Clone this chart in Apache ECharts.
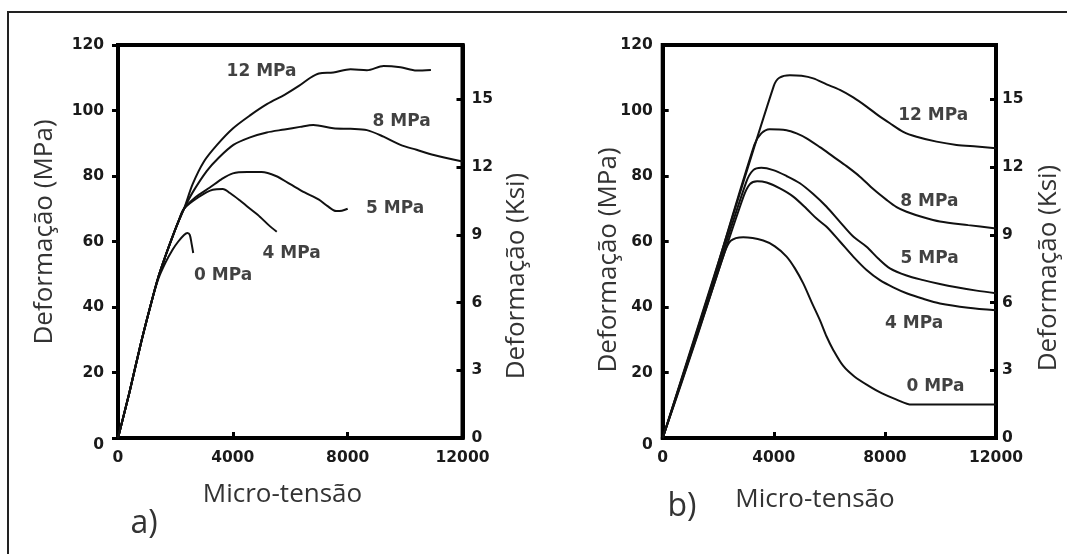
<!DOCTYPE html>
<html>
<head>
<meta charset="utf-8">
<title>Deformação x Micro-tensão</title>
<script src="https://cdn.jsdelivr.net/npm/echarts@6.0.0/dist/echarts.min.js"></script>
<style>
    html, body { margin: 0; padding: 0; background: #fff; }
    #main { width: 1067px; height: 554px; }
</style>
</head>
<body>
<div id="main"></div>
<script>
// eixos
var xMax = 12000;
var xStep = 4000;
var mpaMax = 120;
var mpaStep = 20;
var ksiStep = 3;
var mpaPorKsi = 6.895;
var curveNames = ['0 MPa', '4 MPa', '5 MPa', '8 MPa', '12 MPa'];

// a) curvas [micro-tensão, MPa]
var a0 = [[0, 0], [400, 14], [800, 29], [1150, 41], [1400, 48.5], [1650, 53.5], [1900, 57.5], [2100, 60], [2300, 62], [2420, 62.6], [2500, 62], [2560, 59.5], [2620, 56.5]];
var a4 = [[0, 0], [400, 14], [800, 29], [1150, 41], [1400, 49], [1650, 55.5], [1900, 61.5], [2100, 66], [2300, 70], [2800, 73.5], [3300, 75.8], [3650, 76], [3900, 74.8], [4250, 72.5], [4600, 70], [4950, 67.5], [5250, 65], [5530, 63]];
var a5 = [[0, 0], [400, 14], [800, 29], [1150, 41], [1400, 49], [1650, 55.5], [1900, 61.5], [2100, 66], [2300, 70], [2700, 73.5], [3200, 76.5], [3600, 79], [4000, 80.8], [4500, 81.2], [5000, 81.2], [5500, 80], [6000, 77.5], [6500, 75], [7000, 72.8], [7300, 70.8], [7600, 69.3], [7800, 69.4], [8000, 70]];
var a8 = [[0, 0], [400, 14], [800, 29], [1150, 41], [1400, 49], [1650, 55.5], [1900, 61.5], [2100, 66], [2300, 70], [2600, 75], [3090, 81.5], [3500, 85.5], [4020, 89.5], [4600, 91.8], [5180, 93.3], [5800, 94.2], [6340, 95], [6800, 95.6], [7500, 94.6], [8100, 94.4], [8670, 94], [9250, 92], [9840, 89.5], [10400, 88], [11000, 86.4], [12000, 84.4]];
var a12 = [[0, 0], [400, 14], [800, 29], [1150, 41], [1400, 49], [1650, 55.5], [1900, 61.5], [2100, 66], [2300, 70], [2600, 77.5], [3000, 84.5], [3450, 89.5], [4000, 94.5], [4600, 98.5], [5200, 102], [5800, 104.8], [6300, 107.5], [6700, 110], [7000, 111.3], [7500, 111.6], [8100, 112.6], [8670, 112.3], [9250, 113.6], [9840, 113.2], [10400, 112.2], [10900, 112.4]];

// b) curvas [micro-tensão, MPa]
var b0 = [[0, 0], [1200, 30], [2200, 56], [2450, 60.2], [2900, 61.3], [3620, 60.3], [4040, 58.5], [4460, 55.4], [4760, 51.8], [5060, 47.2], [5360, 41.5], [5660, 36], [5900, 31], [6140, 26.9], [6500, 22], [6900, 18.8], [7400, 16], [7900, 13.6], [8400, 11.8], [8960, 10.2], [12000, 10.2]];
var b4 = [[0, 0], [1500, 38], [2900, 73.5], [3140, 77.5], [3400, 78.4], [3740, 78], [4220, 76.2], [4700, 73.7], [5180, 70], [5540, 67], [5900, 64.5], [6380, 60], [6860, 55.4], [7340, 51.3], [7820, 48.2], [8300, 46], [8780, 44.2], [9380, 42.5], [9980, 41.1], [11000, 39.8], [12000, 39]];
var b5 = [[0, 0], [1500, 39], [3000, 78], [3260, 81.8], [3550, 82.5], [3980, 81.8], [4460, 80], [4940, 77.8], [5420, 74.5], [5900, 70.6], [6380, 66], [6860, 61.5], [7340, 58.4], [7760, 54.8], [8180, 51.8], [8780, 49.6], [9380, 48.2], [9980, 47], [10580, 46], [11300, 45], [12000, 44.2]];
var b8 = [[0, 0], [1700, 45], [3300, 89.5], [3550, 93], [3850, 94.3], [4460, 94], [4820, 93], [5180, 91.5], [5660, 88.8], [6140, 85.9], [6620, 83], [7100, 79.8], [7580, 76], [8060, 72.7], [8420, 70.5], [8780, 69.1], [9380, 67.4], [9980, 66.1], [11000, 65], [12000, 64]];
var b12 = [[0, 0], [2000, 53.5], [4000, 107.5], [4200, 110], [4580, 110.8], [5000, 110.6], [5420, 109.8], [5900, 108], [6380, 106.3], [6860, 104], [7340, 101.2], [7760, 98.5], [8180, 96.1], [8660, 93.5], [9140, 92], [9860, 90.5], [10580, 89.5], [11300, 89], [12000, 88.5]];

// onde fica o nome de cada curva (coordenadas dos dados)
var labelAtA = [[3660, 49.5], [6050, 56.4], [9650, 70], [9880, 96.6], [5000, 112]];
var labelAtB = [[9820, 15.7], [9050, 35], [9610, 54.9], [9600, 72.2], [9740, 98.6]];

var curvesA = [a0, a4, a5, a8, a12];
var curvesB = [b0, b4, b5, b8, b12];

var tickFont = { fontFamily: 'DejaVu Sans', fontWeight: 'bold', fontSize: 15.5, color: '#1a1a1a' };
var titleFont = '26px "Open Sans"';

function xAxisFor(g) {
    return {
        type: 'value', gridIndex: g, min: 0, max: xMax, interval: xStep,
        axisLine: { show: true, onZero: false, lineStyle: { color: '#000', width: 4 } },
        axisTick: { show: true, inside: true, length: 6, lineStyle: { color: '#000', width: 3 } },
        axisLabel: Object.assign({ margin: 12, formatter: function (v) { return String(v); } }, tickFont),
        splitLine: { show: false }
    };
}

function mpaAxisFor(g, tickOut, margin) {
    return {
        type: 'value', gridIndex: g, position: 'left', min: 0, max: mpaMax, interval: mpaStep,
        axisLine: { show: true, onZero: false, lineStyle: { color: '#000', width: 4 } },
        axisTick: { show: true, inside: !tickOut, length: 6, lineStyle: { color: '#000', width: 3 } },
        axisLabel: Object.assign({
            margin: margin,
            formatter: function (v) { return v === 0 ? '{z|0}' : String(v); },
            rich: { z: Object.assign({ padding: [14, 0, 0, 0] }, tickFont) }
        }, tickFont),
        splitLine: { show: false }
    };
}

function ksiAxisFor(g, margin) {
    return {
        type: 'value', gridIndex: g, position: 'right', min: 0, max: mpaMax / mpaPorKsi, interval: ksiStep,
        axisLine: { show: true, onZero: false, lineStyle: { color: '#000', width: 4 } },
        axisTick: { show: true, inside: true, length: 6, lineStyle: { color: '#000', width: 3 } },
        axisLabel: Object.assign({ margin: margin, showMaxLabel: false }, tickFont),
        splitLine: { show: false }
    };
}

var series = [];
function addCurves(curves, g) {
    for (var i = 0; i < curves.length; i++) {
        series.push({
            type: 'line', name: curveNames[i], xAxisIndex: g, yAxisIndex: g * 2,
            data: curves[i], showSymbol: false, smooth: 0.3, silent: true,
            lineStyle: { color: '#111', width: 2 }
        });
    }
}
function addLabels(points, g) {
    series.push({
        type: 'scatter', xAxisIndex: g, yAxisIndex: g * 2, symbolSize: 1, silent: true,
        itemStyle: { color: 'rgba(0,0,0,0)' },
        data: points.map(function (p, i) { return { name: curveNames[i], value: p }; }),
        label: {
            show: true, position: 'inside', formatter: '{b}',
            fontFamily: 'DejaVu Sans', fontWeight: 'bold', fontSize: 17, color: '#111'
        }
    });
}
addCurves(curvesA, 0);
addCurves(curvesB, 1);
addLabels(labelAtA, 0);
addLabels(labelAtB, 1);

function title(text, x, y, rot, font) {
    return {
        type: 'text', x: x, y: y, rotation: rot || 0, silent: true,
        style: { text: text, font: font || titleFont, fill: '#333', align: 'center', verticalAlign: 'middle' }
    };
}

var myChart = echarts.init(document.getElementById('main'), null, { renderer: 'canvas' });
myChart.setOption({
    animation: false,
    backgroundColor: '#fff',
    grid: [
        { left: 118, top: 45, width: 344.5, height: 393, show: true, borderColor: '#000', borderWidth: 4 },
        { left: 662.7, top: 45, width: 333.3, height: 393, show: true, borderColor: '#000', borderWidth: 4 }
    ],
    xAxis: [xAxisFor(0), xAxisFor(1)],
    yAxis: [mpaAxisFor(0, true, 14), ksiAxisFor(0, 9), mpaAxisFor(1, false, 10), ksiAxisFor(1, 6)],
    series: series,
    graphic: [
        // moldura
        { type: 'rect', shape: { x: 8, y: 12, width: 1200, height: 700 }, style: { fill: null, stroke: '#222', lineWidth: 2 }, silent: true },
        title('Deformação (MPa)', 45, 232, Math.PI / 2),
        title('Deformação (Ksi)', 517, 276, Math.PI / 2),
        title('Deformação (MPa)', 609, 260, Math.PI / 2),
        title('Deformação (Ksi)', 1049, 268, Math.PI / 2),
        title('Micro-tensão', 282.5, 495),
        title('Micro-tensão', 815, 500),
        title('a)', 144, 524, 0, '32px "Open Sans"'),
        title('b)', 682, 507, 0, '32px "Open Sans"')
    ]
});
</script>
</body>
</html>
